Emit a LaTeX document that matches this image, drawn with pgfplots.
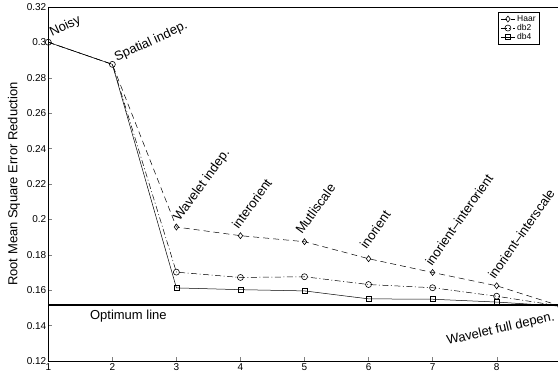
\documentclass[border=0pt]{standalone}
\usepackage{pgfplots}
\pgfplotsset{compat=1.18}
\usepackage{fontspec}
\setmainfont{Liberation Sans}
\tikzset{lbl/.style={inner sep=0pt, font=\fontsize{13}{14}\selectfont}}
\begin{document}
\begin{tikzpicture}
\useasboundingbox (0,0) rectangle (558pt,375pt);
\begin{axis}[
  at={(48.3pt,14pt)}, anchor=south west,
  scale only axis,
  width=512.4pt, height=354pt,
  xmin=1, xmax=9, ymin=0.12, ymax=0.32,
  xtick={1,...,8},
  ytick={0.12,0.14,...,0.32},
  yticklabels={0.12,0.14,0.16,0.18,0.2,0.22,0.24,0.26,0.28,0.3,0.32},
  xtick pos=left, ytick pos=left,
  tick align=inside,
  major tick length=4pt,
  /pgf/number format/assume math mode=true,
  ticklabel style={font=\fontsize{10}{11}\selectfont},
  yticklabel style={xshift=1.5pt},
  xticklabel style={yshift=1pt},
  ylabel={Root Mean Square Error Reduction},
  every axis y label/.style={at={(axis description cs:-0.0669,0.5)}, rotate=90, anchor=center, font=\fontsize{13}{14}\selectfont},
  axis line style={black, line width=0.6pt},
  legend style={at={(0.9596,0.986)}, anchor=north east, font=\fontsize{8.5}{9}\selectfont, draw=black, line width=0.8pt, inner xsep=2pt, inner ysep=1pt, row sep=-2.5pt, cells={anchor=west}},
  legend image code/.code={\draw[#1, mark indices={2}] plot coordinates {(0pt,0pt) (7pt,0pt) (14pt,0pt)};},
  legend cell align=left,
  clip=false,
]
\addplot[black, dash pattern=on 6pt off 4pt, mark=diamond, mark indices={3,...,9}, mark options={solid, line width=0.6pt}, mark size=3pt, line width=0.5pt] coordinates {
(1,0.3001) (2,0.2876) (3,0.1957) (4,0.1908) (5,0.1874) (6,0.1778) (7,0.1700) (8,0.1625) (9,0.1510)};
\addlegendentry{Haar}
\addplot[black, dash pattern=on 6pt off 2.5pt on 1pt off 2.5pt, mark=o, mark options={solid, line width=0.6pt}, mark size=3pt, line width=0.5pt] coordinates {
(1,0.3001) (2,0.2876) (3,0.1702) (4,0.1672) (5,0.1676) (6,0.1632) (7,0.1614) (8,0.1566) (9,0.1510)};
\addlegendentry{db2}
\addplot[black, solid, mark=square, mark indices={3,...,9}, mark options={solid, line width=0.6pt}, mark size=2.5pt, line width=0.5pt] coordinates {
(1,0.3001) (2,0.2876) (3,0.1613) (4,0.1603) (5,0.1596) (6,0.1551) (7,0.1549) (8,0.1533) (9,0.1510)};
\addlegendentry{db4}
\addplot[black, line width=1.8pt, forget plot] coordinates {(1,0.1517) (9,0.1517)};
\node[lbl, anchor=base west, rotate=25] at (axis cs:1.055,0.3032) {Noisy};
\node[lbl, anchor=base west, rotate=25] at (axis cs:2.068,0.2891) {Spatial indep.};
\node[lbl, anchor=base west, rotate=54] at (axis cs:3.05,0.1985) {Wavelet indep.};
\node[lbl, anchor=base west, rotate=54] at (axis cs:3.97,0.1940) {interorient};
\node[lbl, anchor=base west, rotate=54] at (axis cs:4.96,0.1912) {Mutliscale};
\node[lbl, anchor=base west, rotate=55] at (axis cs:5.97,0.1827) {inorient};
\node[lbl, anchor=base west, rotate=55] at (axis cs:6.99,0.1733) {inorient–interorient};
\node[lbl, anchor=base west, rotate=55] at (axis cs:7.97,0.1658) {inorient–interscale};
\node[lbl] at (axis cs:2.25,0.1454) {Optimum line};
\node[lbl, rotate=13] at (axis cs:8.063,0.1379) {Wavelet full depen.};
\end{axis}
\end{tikzpicture}
\end{document}
